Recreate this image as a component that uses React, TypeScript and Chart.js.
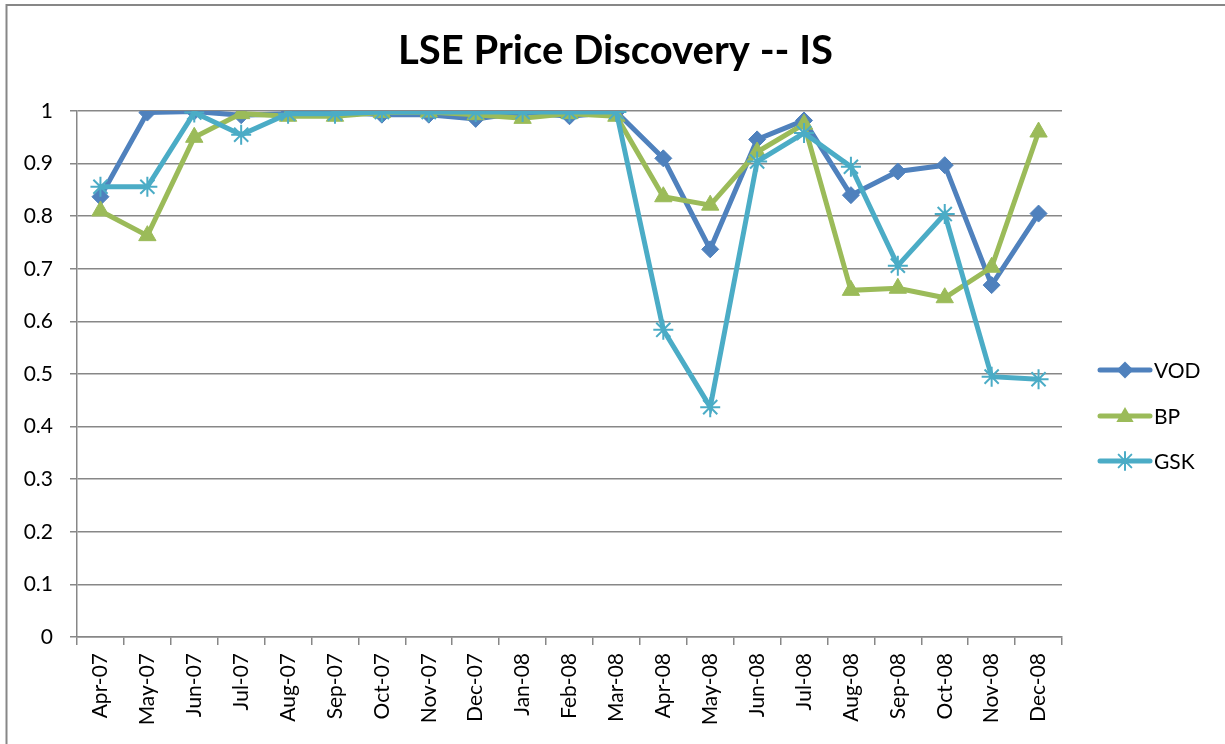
import React, { useEffect, useRef } from "react";
import { Chart, registerables } from "chart.js";

Chart.register(...registerables);

const categories = [
  "Apr-07", "May-07", "Jun-07", "Jul-07", "Aug-07", "Sep-07", "Oct-07",
  "Nov-07", "Dec-07", "Jan-08", "Feb-08", "Mar-08", "Apr-08", "May-08",
  "Jun-08", "Jul-08", "Aug-08", "Sep-08", "Oct-08", "Nov-08", "Dec-08",
];

const vodValues = [
  0.837, 0.997, 0.999, 0.992, 0.995, 0.998, 0.993, 0.993, 0.985, 0.997, 0.99,
  0.998, 0.91, 0.737, 0.946, 0.982, 0.84, 0.885, 0.897, 0.669, 0.805,
];
const bpValues = [
  0.81, 0.763, 0.95, 0.995, 0.99, 0.99, 0.997, 0.998, 0.993, 0.986, 0.995,
  0.99, 0.837, 0.821, 0.922, 0.975, 0.659, 0.663, 0.645, 0.703, 0.96,
];
const gskValues = [
  0.856, 0.856, 0.997, 0.955, 0.995, 0.995, 0.998, 0.998, 0.998, 0.998, 0.998,
  0.998, 0.584, 0.437, 0.904, 0.958, 0.894, 0.706, 0.804, 0.495, 0.49,
];

const seriesNames = ["VOD", "BP", "GSK"];
const seriesColors = ["#4F81BD", "#9BBB59", "#4BACC6"];
const titleText = "LSE Price Discovery -- IS";

const FONT = "Lato, 'Open Sans', sans-serif";
const GRID = "#878787";

function drawMarker(ctx: CanvasRenderingContext2D, style: string, x: number, y: number, r: number, color: string) {
  ctx.save();
  ctx.fillStyle = color;
  ctx.strokeStyle = color;
  ctx.beginPath();
  if (style === "rectRot") {
    ctx.moveTo(x, y - r);
    ctx.lineTo(x + r, y);
    ctx.lineTo(x, y + r);
    ctx.lineTo(x - r, y);
    ctx.closePath();
    ctx.fill();
  } else if (style === "triangle") {
    const a = (2 * Math.PI) / 3;
    for (let i = 0; i < 3; i++) {
      const ang = i * a;
      const px = x + Math.sin(ang) * r;
      const py = y - Math.cos(ang) * r;
      if (i === 0) ctx.moveTo(px, py);
      else ctx.lineTo(px, py);
    }
    ctx.closePath();
    ctx.fill();
  } else {
    ctx.lineWidth = 2;
    for (let i = 0; i < 4; i++) {
      const ang = (i * Math.PI) / 4;
      ctx.moveTo(x - Math.sin(ang) * r, y - Math.cos(ang) * r);
      ctx.lineTo(x + Math.sin(ang) * r, y + Math.cos(ang) * r);
    }
    ctx.stroke();
  }
  ctx.restore();
}

const frameTitleLegend = {
  id: "frameTitleLegend",
  beforeDraw(chart: any) {
    const ctx = chart.ctx as CanvasRenderingContext2D;
    ctx.save();
    ctx.fillStyle = "#ffffff";
    ctx.fillRect(0, 0, chart.width, chart.height);
    ctx.strokeStyle = GRID;
    ctx.lineWidth = 2;
    ctx.strokeRect(6.5, 5, chart.width + 20, chart.height + 20);
    ctx.fillStyle = "#000000";
    ctx.font = `bold 40px ${FONT}`;
    ctx.textAlign = "center";
    ctx.textBaseline = "middle";
    ctx.fillText(titleText, 615.5, 51);
    ctx.restore();
  },
  afterDraw(chart: any) {
    const ctx = chart.ctx as CanvasRenderingContext2D;
    const styles = ["rectRot", "triangle", "star"];
    const radii = [8.5, 10, 9];
    const ys = [370, 416, 461];
    ctx.save();
    for (let i = 0; i < seriesNames.length; i++) {
      const y = ys[i];
      ctx.strokeStyle = seriesColors[i];
      ctx.lineWidth = 5;
      ctx.lineCap = "round";
      ctx.beginPath();
      ctx.moveTo(1100, y);
      ctx.lineTo(1150, y);
      ctx.stroke();
      drawMarker(ctx, styles[i], 1125, y + (i === 1 ? 1 : 0), radii[i], seriesColors[i]);
      ctx.fillStyle = "#000000";
      ctx.font = `21px ${FONT}`;
      ctx.textAlign = "left";
      ctx.textBaseline = "middle";
      ctx.fillText(seriesNames[i], 1154, y + 1);
    }
    ctx.restore();
  },
};

export default function App() {
  const canvasRef = useRef<HTMLCanvasElement | null>(null);

  useEffect(() => {
    const canvas = canvasRef.current;
    if (!canvas) return;
    const chart = new Chart(canvas, {
      type: "line",
      data: {
        labels: categories,
        datasets: [
          {
            label: seriesNames[0],
            data: vodValues,
            borderColor: seriesColors[0],
            backgroundColor: seriesColors[0],
            borderWidth: 5,
            pointStyle: "rectRot",
            pointRadius: 8.5,
            pointBorderWidth: 1,
            tension: 0,
            order: 2,
          },
          {
            label: seriesNames[1],
            data: bpValues,
            borderColor: seriesColors[1],
            backgroundColor: seriesColors[1],
            borderWidth: 5,
            pointStyle: "triangle",
            pointRadius: 10,
            pointBorderWidth: 1,
            tension: 0,
            order: 1,
          },
          {
            label: seriesNames[2],
            data: gskValues,
            borderColor: seriesColors[2],
            backgroundColor: seriesColors[2],
            borderWidth: 5,
            pointStyle: "star",
            pointRadius: 10,
            pointBorderWidth: 2,
            tension: 0,
            order: 0,
          },
        ],
      },
      options: {
        responsive: false,
        animation: false,
        devicePixelRatio: 1,
        layout: { padding: { left: 0, right: 163, top: 111, bottom: 0 } },
        plugins: {
          legend: { display: false },
          tooltip: { enabled: false },
          title: { display: false },
        },
        scales: {
          x: {
            type: "category",
            offset: true,
            grid: {
              offset: true,
              drawOnChartArea: false,
              drawTicks: true,
              tickLength: 8,
              color: GRID,
              lineWidth: 1.5,
            },
            border: { color: GRID, width: 1.5 },
            ticks: {
              color: "#000000",
              font: { family: FONT, size: 21 },
              minRotation: 90,
              maxRotation: 90,
              autoSkip: false,
              padding: 8,
            },
            afterFit(scale: any) {
              scale.height = 107;
            },
          },
          y: {
            min: 0,
            max: 1,
            grid: {
              color: GRID,
              lineWidth: 1.5,
              drawTicks: true,
              tickLength: 7,
            },
            border: { color: GRID, width: 1.5 },
            ticks: {
              stepSize: 0.1,
              color: "#000000",
              font: { family: FONT, size: 21 },
              padding: 17,
              callback: (v: any) => String(Number(Number(v).toFixed(1))),
            },
            afterFit(scale: any) {
              scale.width = 77;
            },
          },
        },
      },
      plugins: [frameTitleLegend],
    });
    return () => chart.destroy();
  }, []);

  return (
    <div style={{ position: "fixed", left: 0, top: 0, width: 1225, height: 744, background: "#fff" }}>
      <canvas ref={canvasRef} width={1225} height={744} style={{ display: "block" }} />
    </div>
  );
}
